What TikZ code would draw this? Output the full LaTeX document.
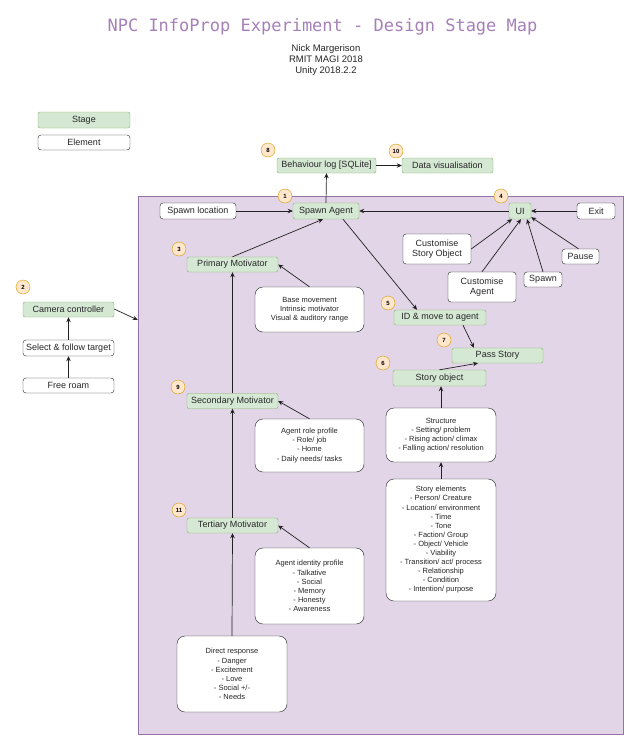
\documentclass[tikz,border=0pt]{standalone}
\usepackage{fontspec}
\setmainfont{Liberation Sans}
\newfontfamily\titlefont{DejaVu Sans Mono}
\usetikzlibrary{arrows.meta}
\definecolor{stagefill}{HTML}{D5E8D4}
\definecolor{stageline}{HTML}{82B366}
\definecolor{regfill}{HTML}{E1D5E7}
\definecolor{regline}{HTML}{9673A6}
\definecolor{numfill}{HTML}{FFE6CC}
\definecolor{numline}{HTML}{D79B00}
\definecolor{titleclr}{HTML}{A680B8}
\definecolor{lineclr}{HTML}{222222}

\begin{document}
\begin{tikzpicture} [x = 1pt, y = -1pt,
  stage/.style = {draw = stageline, fill = stagefill, rounded corners = 2pt, inner sep = 0pt, text = black!85, font = \fontsize{9}{10.5}\selectfont},
  elem/.style = {draw = lineclr, fill = white, rounded corners = 3pt, inner sep = 0pt, align = center, text = black!85, font = \fontsize{9}{10.3}\selectfont},
  card/.style = {draw = lineclr, fill = white, rounded corners = 8pt, inner sep = 0pt, align = center, text = black!85, font = \fontsize{7.5}{9.1}\selectfont},
  num/.style = {circle, draw = numline, fill = numfill, minimum size = 14pt, inner sep = 0pt, font = \fontsize{6}{6}\selectfont\bfseries},
  arr/.style = {draw = lineclr, line width = 0.7pt, -{Stealth[length = 5pt, width = 4.5pt]}}]
\useasboundingbox[fill = white] (0, 0) rectangle (639, 750);
\node[draw = regline, fill = regfill, minimum width = 485pt, minimum height = 538pt, inner sep = 0pt] (sim) at (380.5, 465){};
\node[titleclr, font = \titlefont\fontsize{17}{20}\selectfont] (title) at (322.5, 27){NPC InfoProp Experiment - Design Stage Map};
\node[align = center, text = black!85, font = \fontsize{9.5}{11}\selectfont] (author) at (326, 60){Nick Margerison\\RMIT MAGI 2018\\Unity 2018.2.2};
\node[stage, minimum width = 92pt, minimum height = 16pt] (legstage) at (84, 120){Stage};
\node[elem, minimum width = 92pt, minimum height = 15pt] (legelem) at (84, 142.5){Element};
\node[stage, minimum width = 99pt, minimum height = 15pt] (behav) at (326.5, 165.5){Behaviour log [SQLite]};
\node[stage, minimum width = 91pt, minimum height = 15pt] (datavis) at (447.5, 165.5){Data visualisation};
\node[elem, minimum width = 76pt, minimum height = 16pt] (spawnloc) at (198, 211){Spawn location};
\node[stage, minimum width = 66pt, minimum height = 16pt] (spawnagent) at (326, 211){Spawn Agent};
\node[stage, minimum width = 22pt, minimum height = 16pt] (ui) at (520, 211){UI};
\node[elem, minimum width = 38pt, minimum height = 16pt] (exit) at (596, 211){Exit};
\node[elem, minimum width = 68pt, minimum height = 30pt] (custstory) at (437, 249){Customise\\Story Object};
\node[elem, minimum width = 37pt, minimum height = 15pt] (pause) at (580.5, 256.5){Pause};
\node[elem, minimum width = 68pt, minimum height = 30pt] (custagent) at (482, 287){Customise\\Agent};
\node[elem, minimum width = 38pt, minimum height = 15pt] (spawn) at (543, 279.5){Spawn};
\node[stage, minimum width = 91pt, minimum height = 15pt] (primary) at (232.5, 264.5){Primary Motivator};
\node[card, minimum width = 109pt, minimum height = 45pt] (basemove) at (309.5, 309.5){Base movement\\Intrinsic motivator\\Visual \& auditory range};
\node[stage, minimum width = 91pt, minimum height = 15pt] (camera) at (68.5, 309.5){Camera controller};
\node[elem, minimum width = 91pt, minimum height = 16pt] (select) at (68.5, 348){Select \& follow target};
\node[elem, minimum width = 91pt, minimum height = 15pt] (freeroam) at (68.5, 385.5){Free roam};
\node[stage, minimum width = 92pt, minimum height = 15pt] (idmove) at (440, 317.5){ID \& move to agent};
\node[stage, minimum width = 91pt, minimum height = 15pt] (pass) at (497.5, 355.5){Pass Story};
\node[stage, minimum width = 93pt, minimum height = 16pt] (storyobj) at (439.5, 378){Story object};
\node[stage, minimum width = 91pt, minimum height = 15pt] (secondary) at (232.5, 401){Secondary Motivator};
\node[card, minimum width = 109pt, minimum height = 53pt] (roleprof) at (309.5, 445.5){Agent role profile\\- Role/ job\\- Home\\- Daily needs/ tasks};
\node[card, minimum width = 110pt, minimum height = 54pt] (structure) at (441, 435){Structure\\- Setting/ problem\\- Rising action/ climax\\- Falling action/ resolution};
\node[stage, minimum width = 91pt, minimum height = 15pt] (tertiary) at (232.5, 525.5){Tertiary Motivator};
\node[card, minimum width = 109pt, minimum height = 76pt] (identprof) at (309.5, 586){Agent identity profile\\- Talkative\\- Social\\- Memory\\- Honesty\\- Awareness};
\node[card, minimum width = 110pt, minimum height = 122pt] (storyel) at (441, 540){Story elements\\- Person/ Creature\\- Location/ environment\\- Time\\- Tone\\- Faction/ Group\\- Object/ Vehicle\\- Viability\\- Transition/ act/ process\\- Relationship\\- Condition\\- Intention/ purpose};
\node[card, minimum width = 110pt, minimum height = 76pt] (direct) at (232, 674){Direct response\\- Danger\\- Excitement\\- Love\\- Social +/-\\- Needs};
\node[num] (n8) at (268, 150){8};
\node[num] (n10) at (396, 151){10};
\node[num] (n1) at (285, 196){1};
\node[num] (n4) at (501, 196){4};
\node[num] (n3) at (179, 249){3};
\node[num] (n2) at (23, 287){2};
\node[num] (n5) at (388, 303){5};
\node[num] (n7) at (444, 340){7};
\node[num] (n6) at (383, 363){6};
\node[num] (n9) at (178, 387){9};
\node[num] (n11) at (179, 510){11};
\draw[arr] (spawnloc.east) -- (spawnagent.west);
\draw[arr] (ui.west) -- (spawnagent.east);
\draw[arr] (exit.west) -- (ui.east);
\draw[arr] (spawnagent.north) -- (behav.south);
\draw[arr] (behav.east) -- (datavis.west);
\draw[arr] (primary.north) -- ([xshift = -3pt]spawnagent.south);
\draw[arr] (basemove.north) -- (primary.east);
\draw[arr] (secondary.north) -- (primary.south);
\draw[arr] (roleprof.north) -- (secondary.east);
\draw[arr] (tertiary.north) -- (secondary.south);
\draw[arr] (identprof.north) -- (tertiary.east);
\draw[arr] (direct.north) -- (tertiary.south);
\draw[arr] ([xshift = 17pt]spawnagent.south) -- ([xshift = -23pt]idmove.north);
\draw[arr] ([xshift = 23pt]idmove.south) -- ([xshift = -23.5pt]pass.north);
\draw[arr] (storyobj.north) -- ([xshift = -19.5pt]pass.south);
\draw[arr] (structure.north) -- ([xshift = 1.5pt]storyobj.south);
\draw[arr] (storyel.north) -- (structure.south);
\draw[arr] (custstory.east) -- ([xshift = -8pt]ui.south);
\draw[arr] (custagent.north) -- ([xshift = 1pt]ui.south);
\draw[arr] (spawn.north) -- ([xshift = 7pt]ui.south);
\draw[arr] ([xshift = -2pt]pause.north) -- ([yshift = 2pt]ui.south east);
\draw[arr] (freeroam.north) -- (select.south);
\draw[arr] (select.north) -- (camera.south);
\draw[arr] ([yshift = 0.5pt]camera.east) -- ([yshift = 145pt]sim.west);
\end{tikzpicture}
\end{document}
